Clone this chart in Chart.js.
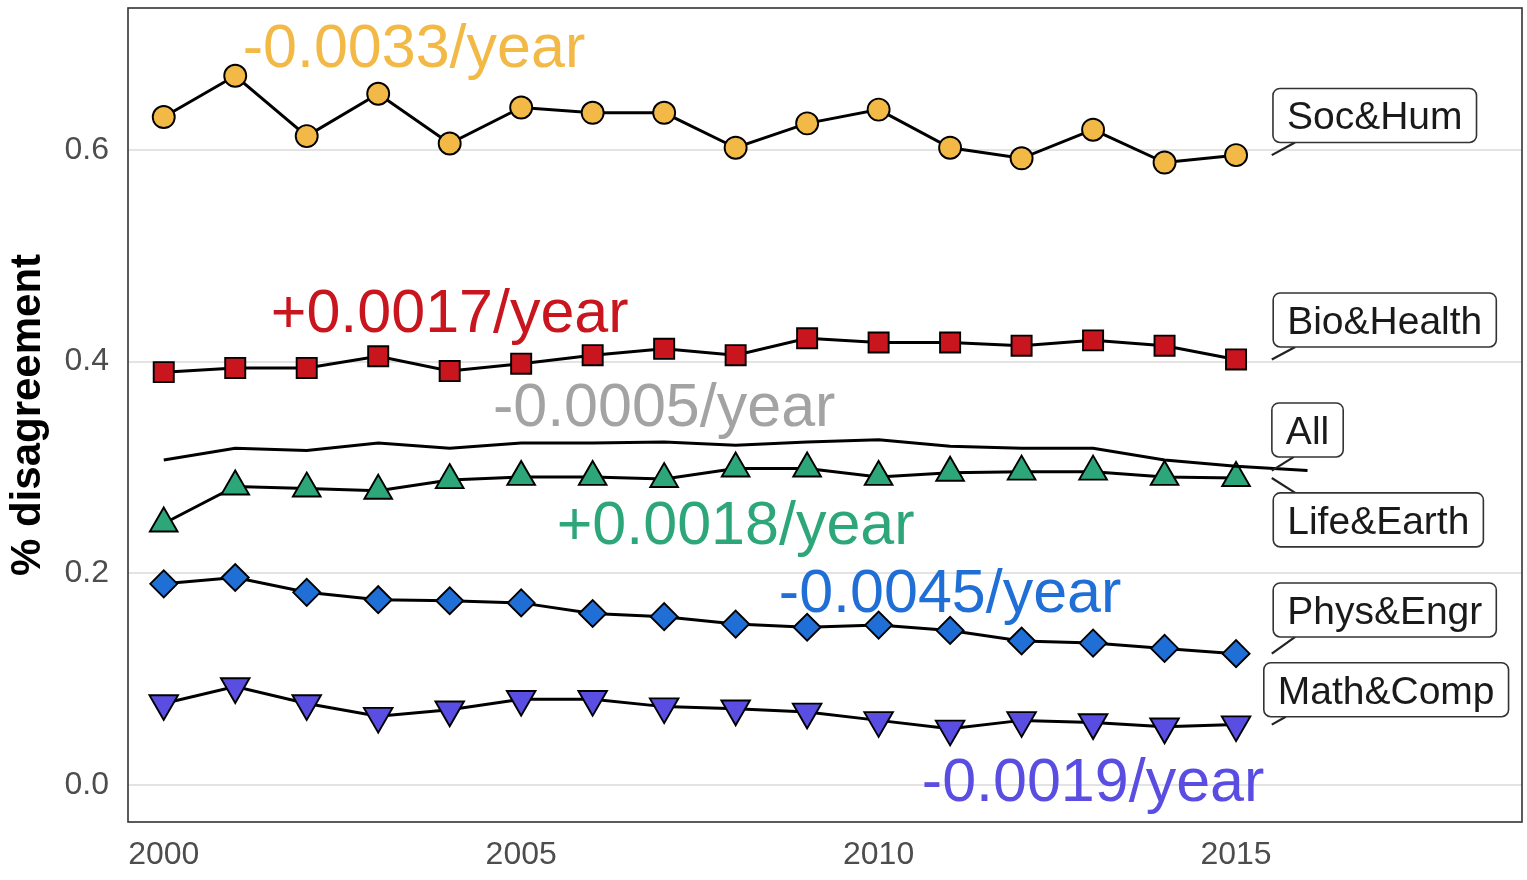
<!DOCTYPE html>
<html>
<head>
<meta charset="utf-8">
<script src="https://cdn.jsdelivr.net/npm/chart.js@4.4.1/dist/chart.umd.min.js"></script>
<style>
  html, body { margin: 0; padding: 0; background: #ffffff; }
  #wrap { width: 1527px; height: 880px; }
</style>
</head>
<body>
<div id="wrap"><canvas id="chart" width="1527" height="880"></canvas></div>
<script>
// ---- data ----
const years = [2000, 2001, 2002, 2003, 2004, 2005, 2006, 2007, 2008, 2009, 2010, 2011, 2012, 2013, 2014, 2015, 2016];

const socHum    = [0.631, 0.670, 0.613, 0.653, 0.606, 0.640, 0.635, 0.635, 0.602, 0.625, 0.638, 0.602, 0.592, 0.619, 0.588, 0.595];
const bioHealth = [0.390, 0.394, 0.394, 0.405, 0.391, 0.398, 0.406, 0.412, 0.406, 0.422, 0.418, 0.418, 0.415, 0.420, 0.415, 0.402];
const allFields = [0.307, 0.318, 0.316, 0.323, 0.318, 0.323, 0.323, 0.324, 0.321, 0.324, 0.326, 0.320, 0.318, 0.318, 0.307, 0.301, 0.297];
const lifeEarth = [0.247, 0.282, 0.280, 0.278, 0.288, 0.291, 0.291, 0.289, 0.299, 0.299, 0.291, 0.295, 0.296, 0.296, 0.291, 0.290];
const physEngr  = [0.190, 0.196, 0.182, 0.175, 0.174, 0.172, 0.162, 0.159, 0.152, 0.149, 0.151, 0.146, 0.136, 0.134, 0.129, 0.124];
const mathComp  = [0.077, 0.093, 0.077, 0.065, 0.071, 0.081, 0.081, 0.074, 0.072, 0.069, 0.061, 0.053, 0.061, 0.059, 0.055, 0.057];

const fieldNames  = ['Soc&Hum', 'Bio&Health', 'All', 'Life&Earth', 'Phys&Engr', 'Math&Comp'];
const trendLabels = ['-0.0033/year', '+0.0017/year', '-0.0005/year', '+0.0018/year', '-0.0045/year', '-0.0019/year'];

const xTicks = [2000, 2005, 2010, 2015];
const yTicks = [0.0, 0.2, 0.4, 0.6];

// ---- styling ----
const FONT = '"Liberation Sans", Arial, Helvetica, sans-serif';
const fieldColors = ['#F3B946', '#C9151E', '#A3A3A3', '#2DA77A', '#1F6FD6', '#5A4DE2'];
const markerStyle = [
  { pointStyle: 'circle',   radius: 11,   rotation: 0 },
  { pointStyle: 'rect',     radius: 14.2, rotation: 0 },
  null,
  { pointStyle: 'triangle', radius: 16,   rotation: 0 },
  { pointStyle: 'rectRot',  radius: 13.5, rotation: 0 },
  { pointStyle: 'triangle', radius: 16.5, rotation: 180 }
];
// slope text placement (data units: year, value)
const trendPlacement = [
  [2003.5, 0.699], [2004.0, 0.449], [2007.0, 0.360],
  [2008.0, 0.248], [2011.0, 0.184], [2013.0, 0.005]
];
// name box placement (data units of the box centre)
const boxPlacement = [
  [2016.94, 0.6325], [2017.08, 0.4393], [2016.0, 0.3354],
  [2016.99, 0.2504], [2017.08, 0.1653], [2017.10, 0.0900]
];
const leaderYear = 2015.5;

const seriesValues = [socHum, bioHealth, allFields, lifeEarth, physEngr, mathComp];

const datasets = seriesValues.map((vals, k) => {
  const m = markerStyle[k];
  return {
    label: fieldNames[k],
    data: vals.map((v, i) => ({ x: years[i], y: v })),
    borderColor: '#000000',
    borderWidth: 3,
    tension: 0,
    fill: false,
    clip: false,
    pointStyle: m ? m.pointStyle : 'circle',
    pointRadius: m ? m.radius : 0,
    pointRotation: m ? m.rotation : 0,
    pointBackgroundColor: fieldColors[k],
    pointBorderColor: '#000000',
    pointBorderWidth: 1.9,
    pointHoverRadius: m ? m.radius : 0
  };
});

// panel frame, slope annotations and field name boxes
const decorations = {
  id: 'decorations',
  afterDatasetsDraw(chart) {
    const { ctx, chartArea: a, scales: { x, y } } = chart;
    ctx.save();

    // slope annotations
    const tSize = 61;
    ctx.font = `${tSize}px ${FONT}`;
    ctx.textAlign = 'center';
    ctx.textBaseline = 'alphabetic';
    trendLabels.forEach((txt, k) => {
      const [yr, v] = trendPlacement[k];
      ctx.fillStyle = fieldColors[k];
      ctx.fillText(txt, x.getPixelForValue(yr), y.getPixelForValue(v) + tSize * 0.716 / 2);
    });

    // name boxes with leader segments
    const bSize = 39, padX = 14, boxH = 54, r = 7;
    ctx.font = `${bSize}px ${FONT}`;
    fieldNames.forEach((name, k) => {
      const vals = seriesValues[k];
      const cx = x.getPixelForValue(boxPlacement[k][0]);
      const cy = y.getPixelForValue(boxPlacement[k][1]);
      const w = ctx.measureText(name).width + padX * 2;
      const left = cx - w / 2, top = cy - boxH / 2;

      const ax = x.getPixelForValue(leaderYear);
      const ay = y.getPixelForValue(vals[vals.length - 1]);
      const ex = left + 22;
      const ey = ay > cy ? top + boxH : top;
      ctx.beginPath();
      ctx.moveTo(ax, ay);
      ctx.lineTo(ex, ey);
      ctx.strokeStyle = '#222222';
      ctx.lineWidth = 2.2;
      ctx.stroke();

      ctx.beginPath();
      ctx.roundRect(left, top, w, boxH, r);
      ctx.fillStyle = '#ffffff';
      ctx.fill();
      ctx.strokeStyle = '#333333';
      ctx.lineWidth = 1.6;
      ctx.stroke();

      ctx.fillStyle = '#1a1a1a';
      ctx.textAlign = 'center';
      ctx.fillText(name, cx, cy + bSize * 0.716 / 2);
    });

    // panel frame
    ctx.strokeStyle = '#333333';
    ctx.lineWidth = 1.6;
    ctx.strokeRect(a.left, a.top, a.right - a.left, a.bottom - a.top);
    ctx.restore();
  }
};

new Chart(document.getElementById('chart'), {
  type: 'line',
  data: { datasets },
  options: {
    responsive: false,
    maintainAspectRatio: false,
    animation: false,
    layout: { autoPadding: false, padding: { top: 8, right: 5, bottom: 0, left: 0 } },
    plugins: { legend: { display: false }, tooltip: { enabled: false } },
    scales: {
      x: {
        type: 'linear',
        min: 1999.5,
        max: 2019,
        afterBuildTicks: s => { s.ticks = xTicks.map(v => ({ value: v })); },
        afterFit: s => { s.height = 58; s.paddingLeft = 0; s.paddingRight = 0; },
        grid: { display: false, drawTicks: false },
        border: { display: false },
        ticks: {
          font: { family: FONT, size: 32 },
          color: '#4d4d4d',
          padding: 14,
          maxRotation: 0,
          callback: v => String(v)
        }
      },
      y: {
        type: 'linear',
        min: -0.035,
        max: 0.734,
        afterBuildTicks: s => { s.ticks = yTicks.map(v => ({ value: v })); },
        afterFit: s => { s.width = 128; s.paddingTop = 0; s.paddingBottom = 0; },
        grid: { color: '#e3e3e3', lineWidth: 2, drawTicks: false },
        border: { display: false },
        ticks: {
          font: { family: FONT, size: 32 },
          color: '#4d4d4d',
          padding: 19,
          callback: v => v.toFixed(1)
        },
        title: {
          display: true,
          text: '% disagreement',
          font: { family: FONT, size: 42, weight: 'bold' },
          color: '#000000',
          padding: { top: 3, bottom: 0 }
        }
      }
    }
  },
  plugins: [decorations]
});
</script>
</body>
</html>
